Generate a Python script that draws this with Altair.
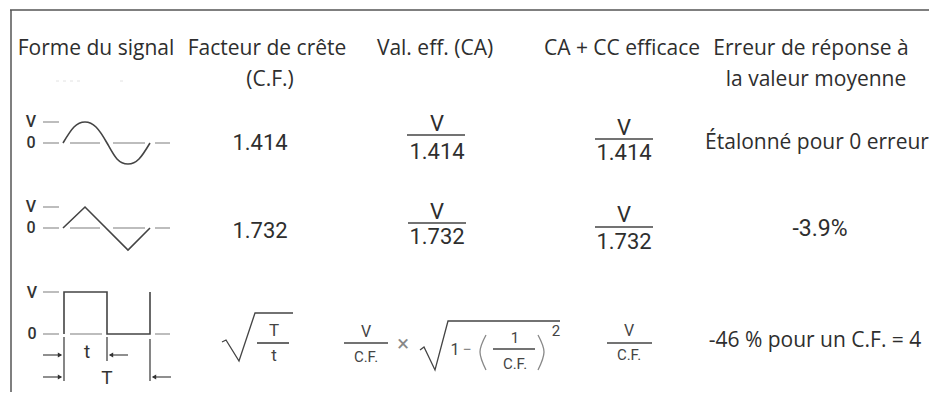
import altair as alt
import pandas as pd

# ---------------- content ----------------
HEADERS_1 = ["Forme du signal", "Facteur de crête", "Val. eff. (CA)",
             "CA + CC efficace", "Erreur de réponse à"]
HEADERS_2 = ["(C.F.)", "la valeur moyenne"]
CREST = ["1.414", "1.732"]
RMS_NUM = ["V", "V"]
RMS_DEN = ["1.414", "1.732"]
ACDC_NUM = ["V", "V", "V"]
ACDC_DEN = ["1.414", "1.732", "C.F."]
ERRORS = ["Étalonné pour 0 erreur", "-3.9%", "-46 % pour un C.F. = 4"]
LEVELS = ["V", "0"]
PULSE = ["t", "T"]
SQRT_FRAC = ["T", "t"]
RMS_SQ_NUM = ["V", "C.F."]
INNER = ["1", "1", "C.F."]
SYMBOLS = ["×", "−"]
EXPONENT = ["2"]

# waveform glyph outlines
SINE_X = [63, 74, 85, 96, 107, 117, 128, 139, 150]
SINE_Y = [143, 127, 122, 127, 143, 159, 164, 159, 143]
TRI_X = [63, 85, 128, 150]
TRI_Y = [228, 207, 250, 228]
SQ_X = [64, 64, 107, 107, 150, 150]
SQ_Y = [334, 292, 292, 334, 334, 292]
RAD1_X = [222, 226, 239, 255, 293]
RAD1_Y = [342, 340, 361, 313, 313]
RAD2_X = [420, 424, 435, 448, 560]
RAD2_Y = [350, 347, 370, 321, 321]
PARL_X = [486, 480, 486]
PARL_Y = [335, 352, 370]
PARR_X = [538, 544, 538]
PARR_Y = [335, 352, 370]

# ---------------- layout ----------------
COL_X = [96, 267, 435, 622, 811]
HEAD_Y = [49, 80]
ROW_Y = [143, 231, 341]

xs = alt.Scale(domain=[8, 929], nice=False, zero=False)
ys = alt.Scale(domain=[8, 392], nice=False, zero=False, reverse=True)
X = alt.X("x:Q", scale=xs, axis=None)
Y = alt.Y("y:Q", scale=ys, axis=None)
X2 = alt.X2("x2:Q")
Y2 = alt.Y2("y2:Q")

TXT = "#2e2e2e"


def text_layer(rows, font, color=TXT, weight="normal"):
    df = pd.DataFrame(rows, columns=["t", "x", "y", "s"])
    return alt.Chart(df).mark_text(font=font, baseline="middle", align="center",
                                   color=color, fontWeight=weight).encode(
        x=X, y=Y, text=alt.Text("t:N"), size=alt.Size("s:Q", scale=None))


def rule_layer(rows, color, width, dash=None):
    df = pd.DataFrame(rows, columns=["x", "x2", "y", "y2"])
    kw = dict(color=color, strokeWidth=width)
    if dash:
        kw["strokeDash"] = dash
    return alt.Chart(df).mark_rule(**kw).encode(x=X, x2=X2, y=Y, y2=Y2)


def line_layer(series, color, width, interp="linear"):
    recs = []
    for g, (xv, yv) in enumerate(series):
        for o, (a, b) in enumerate(zip(xv, yv)):
            recs.append({"g": g, "o": o, "x": a, "y": b})
    return alt.Chart(pd.DataFrame(recs)).mark_line(
        color=color, strokeWidth=width, interpolate=interp).encode(
        x=X, y=Y, detail="g:N", order="o:Q")


# header texts
HS = 21
header_rows = [(t, COL_X[i], HEAD_Y[0], HS) for i, t in enumerate(HEADERS_1)]
header_rows += [(HEADERS_2[0], 270, HEAD_Y[1], HS), (HEADERS_2[1], 816, HEAD_Y[1], HS)]

# numbers and fractions rows 1-2
num_rows = []
for i in range(2):
    num_rows.append((CREST[i], 260, ROW_Y[i], 22))
rms_pos = [(437, 124, 152), (437, 212, 237)]
for i, (cx, yn, yd) in enumerate(rms_pos):
    num_rows.append((RMS_NUM[i], cx, yn, 22))
    num_rows.append((RMS_DEN[i], cx, yd, 22))
acdc_pos = [(624, 128, 153), (624, 215, 242)]
for i, (cx, yn, yd) in enumerate(acdc_pos):
    num_rows.append((ACDC_NUM[i], cx, yn, 22))
    num_rows.append((ACDC_DEN[i], cx, yd, 22))
num_rows.append((ERRORS[1], 820, 229, 23))

err_rows = [(ERRORS[0], 817, 143, 21), (ERRORS[2], 815, 341, 21)]

small_rows = [
    (ACDC_NUM[2], 629, 331, 16), (ACDC_DEN[2], 629, 355, 15),
    (SQRT_FRAC[0], 274, 331, 17), (SQRT_FRAC[1], 274, 356, 17),
    (RMS_SQ_NUM[0], 366, 332, 16), (RMS_SQ_NUM[1], 366, 357, 15),
    (INNER[0], 455, 350, 16), (INNER[1], 515, 338, 15), (INNER[2], 515, 364, 15),
    (EXPONENT[0], 556, 331, 15),
]
sym_rows = [(SYMBOLS[0], 403, 344, 22), (SYMBOLS[1], 467, 350, 16)]

level_rows = [
    (LEVELS[0], 31, 122, 16), (LEVELS[1], 31, 143, 16),
    (LEVELS[0], 31, 207, 16), (LEVELS[1], 31, 228, 16),
    (LEVELS[0], 32, 293, 16), (LEVELS[1], 32, 334, 16),
]
pulse_rows = [(PULSE[0], 87, 352, 19), (PULSE[1], 107, 378, 19)]

frac_bars = [(407, 465, 135, 135), (408, 466, 223, 223), (595, 653, 139, 139),
             (595, 653, 227, 227), (607, 652, 343, 343), (344, 388, 343, 343),
             (493, 535, 349, 349), (257, 289, 343, 343)]

dashes = []
for zy, vy in [(143, 122), (228, 207), (334, 292)]:
    dashes.append((43, 59, vy, vy))
    dashes.append((43, 59, zy, zy))
    dashes.append((155, 170, zy, zy))
for seg in [(70, 100), (113, 145)]:
    dashes.append((seg[0], seg[1], 143, 143))
    dashes.append((seg[0], seg[1], 228, 228))
dashes.append((70, 102, 334, 334))

border = [(10, 929, 10, 10), (11, 11, 10, 392)]
ticks = [(64, 64, 337, 381), (107, 107, 337, 361), (150, 150, 339, 381)]
arrow_lines = [(43, 61, 355, 355), (110, 128, 355, 355),
               (43, 61, 377, 377), (153, 171, 377, 377)]
faint = [(56, 84, 81, 81), (120, 124, 81, 81)]

heads_r = pd.DataFrame({"x": [60, 60], "y": [355, 377]})
heads_l = pd.DataFrame({"x": [111, 154], "y": [355, 377]})

layers = [
    rule_layer(border, "#555555", 1.5),
    rule_layer(faint, "#e2e2e2", 1, [3, 4]),
    rule_layer(dashes, "#9a9a9a", 1.3),
    rule_layer(frac_bars, "#444444", 1.6),
    rule_layer(ticks, "#444444", 1.3),
    rule_layer(arrow_lines, "#444444", 1.2),
    alt.Chart(heads_r).mark_point(shape="triangle-right", filled=True, size=26,
                                  color="#333333", opacity=1).encode(x=X, y=Y),
    alt.Chart(heads_l).mark_point(shape="triangle-left", filled=True, size=26,
                                  color="#333333", opacity=1).encode(x=X, y=Y),
    line_layer([(SINE_X, SINE_Y)], "#444444", 1.6, "natural"),
    line_layer([(TRI_X, TRI_Y), (SQ_X, SQ_Y)], "#444444", 1.6),
    line_layer([(RAD1_X, RAD1_Y), (RAD2_X, RAD2_Y)], "#444444", 1.3),
    line_layer([(PARL_X, PARL_Y), (PARR_X, PARR_Y)], "#888888", 1.3, "natural"),
    text_layer(header_rows, "Open Sans"),
    text_layer(num_rows, "Roboto"),
    text_layer(err_rows, "Open Sans"),
    text_layer(small_rows, "Roboto", "#444444"),
    text_layer(sym_rows, "Roboto", "#888888"),
    text_layer(level_rows, "Roboto", "#333333", 500),
    text_layer(pulse_rows, "Roboto", "#333333"),
]

chart = alt.layer(*layers).properties(
    width=921, height=384, padding=0,
    autosize=alt.AutoSizeParams(type="none"),
).configure_view(stroke=None)

chart.save("out.html", embed_options={"renderer": "svg", "actions": False})
